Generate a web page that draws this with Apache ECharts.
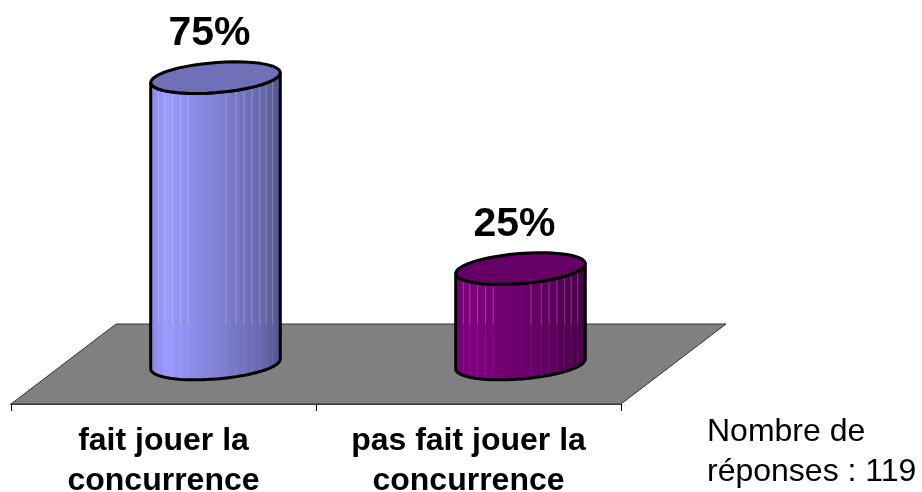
<!DOCTYPE html>
<html>
<head>
<meta charset="utf-8">
<script src="https://cdn.jsdelivr.net/npm/echarts@6/dist/echarts.min.js"></script>
<style>
  html, body { margin: 0; padding: 0; background: #fff; }
  #chart { width: 922px; height: 492px; }
</style>
</head>
<body>
<div id="chart"></div>
<script>
const categories = ['fait jouer la\nconcurrence', 'pas fait jouer la\nconcurrence']
const values = [75, 25]
const sideColors = [[153, 153, 255], [128, 0, 128]]
const topColors = ['#7070b8', '#660066']
const noteText = 'Nombre de\nréponses : 119'

const FONT = '"Liberation Sans", Arial, sans-serif'
const DEPTH_X = 105
const DEPTH_Y = 80
const RX = 65
const RY = 15
const TILT = 0.08 // the ellipses lean up to the right
// brighter stripes on the cylinder wall, as a fraction of its width
const stripes = [0.06, 0.11, 0.17, 0.23, 0.29, 0.58, 0.66, 0.72, 0.78, 0.84, 0.89, 0.94]

function shade(rgb, k) {
    return 'rgb(' + rgb.map(c => Math.round(c * k)).join(',') + ')'
}

function ellipsePoint(cx, cy, t) {
    const ex = RX * Math.cos(t)
    const ey = RY * Math.sin(t)
    return [
        cx + ex * Math.cos(TILT) + ey * Math.sin(TILT),
        cy - ex * Math.sin(TILT) + ey * Math.cos(TILT)
    ]
}

// part of an ellipse, from t0 to t1
function arc(cx, cy, t0, t1) {
    const pts = []
    for (let i = 0; i <= 40; i++) {
        pts.push(ellipsePoint(cx, cy, t0 + (t1 - t0) * i / 40))
    }
    return pts
}

function lowerY(cx, cy, x) {
    const pts = arc(cx, cy, Math.PI, 0)
    let best = pts[0]
    pts.forEach(p => { if (Math.abs(p[0] - x) < Math.abs(best[0] - x)) best = p })
    return best[1]
}

function renderFloor(params) {
    const g = params.coordSys
    const bottom = g.y + g.height
    return {
        type: 'polygon',
        shape: {
            points: [
                [g.x, bottom],
                [g.x + g.width, bottom],
                [g.x + g.width + DEPTH_X, bottom - DEPTH_Y],
                [g.x + DEPTH_X, bottom - DEPTH_Y]
            ]
        },
        style: { fill: '#808080', stroke: '#333', lineWidth: 1 }
    }
}

function renderCylinder(params, api) {
    const i = api.value(0)
    const base = api.coord([i, 0])
    const head = api.coord([i, api.value(1)])
    const g = params.coordSys
    const floorY = g.y + g.height - DEPTH_Y
    const cx = base[0] + DEPTH_X / 2 - 0.5
    const by = base[1] - DEPTH_Y / 2
    const ty = head[1] - DEPTH_Y / 2
    const rgb = sideColors[i]
    const lineStyle = { stroke: '#000', lineWidth: 3, lineJoin: 'round' }

    const wall = arc(cx, ty, 0, Math.PI).concat(arc(cx, by, Math.PI, 0))
    const wallFill = new echarts.graphic.LinearGradient(0, 0, 1, 0, [
        { offset: 0, color: shade(rgb, 0.9) },
        { offset: 0.12, color: shade(rgb, 1) },
        { offset: 0.5, color: shade(rgb, 0.85) },
        { offset: 0.85, color: shade(rgb, 0.68) },
        { offset: 1, color: shade(rgb, 0.55) }
    ])

    const children = [{
        type: 'polygon',
        shape: { points: wall },
        style: { fill: wallFill }
    }]
    stripes.forEach(f => {
        const x = cx - RX + f * RX * 2
        const y0 = lowerY(cx, ty, x)
        const y1 = lowerY(cx, by, x)
        if (y0 < floorY) {
            children.push({
                type: 'line',
                shape: { x1: x, y1: y0, x2: x, y2: floorY },
                style: { stroke: 'rgba(255,255,255,0.25)', lineWidth: 1 }
            })
        }
        children.push({
            type: 'line',
            shape: { x1: x, y1: Math.max(y0, floorY), x2: x, y2: y1 },
            style: { stroke: 'rgba(255,255,255,0.08)', lineWidth: 1 }
        })
    })
    children.push({
        type: 'polygon',
        shape: { points: wall },
        style: Object.assign({ fill: 'none' }, lineStyle)
    }, {
        type: 'polygon',
        shape: { points: arc(cx, ty, 0, Math.PI * 2) },
        style: Object.assign({ fill: topColors[i] }, lineStyle)
    }, {
        type: 'text',
        style: {
            text: api.value(1) + '%',
            x: cx - 6,
            y: ty - 44,
            align: 'center',
            verticalAlign: 'middle',
            font: 'bold 41px ' + FONT,
            fill: '#000'
        }
    })
    return { type: 'group', children: children }
}

const chart = echarts.init(document.getElementById('chart'))
chart.setOption({
    animation: false,
    backgroundColor: '#fff',
    grid: { left: 11, top: 0, width: 610, height: 404, outerBoundsMode: 'none' },
    xAxis: {
        type: 'category',
        data: categories,
        axisLine: { lineStyle: { color: '#000', width: 1.5 } },
        axisTick: { show: true, length: 7, lineStyle: { color: '#000', width: 1 } },
        axisLabel: {
            interval: 0,
            margin: 17,
            color: '#000',
            fontFamily: FONT,
            fontWeight: 'bold',
            fontSize: 32,
            lineHeight: 40
        }
    },
    yAxis: { type: 'value', min: 0, max: 105.8, show: false },
    graphic: [{
        type: 'text',
        left: 707,
        top: 412,
        style: { text: noteText, font: '32px ' + FONT, lineHeight: 40, fill: '#000' }
    }],
    series: [
        { type: 'custom', renderItem: renderFloor, data: [0], silent: true, z: 1 },
        {
            type: 'custom',
            renderItem: renderCylinder,
            data: values.map((v, i) => [i, v]),
            encode: { x: 0, y: 1 },
            z: 2
        }
    ]
})
</script>
</body>
</html>
